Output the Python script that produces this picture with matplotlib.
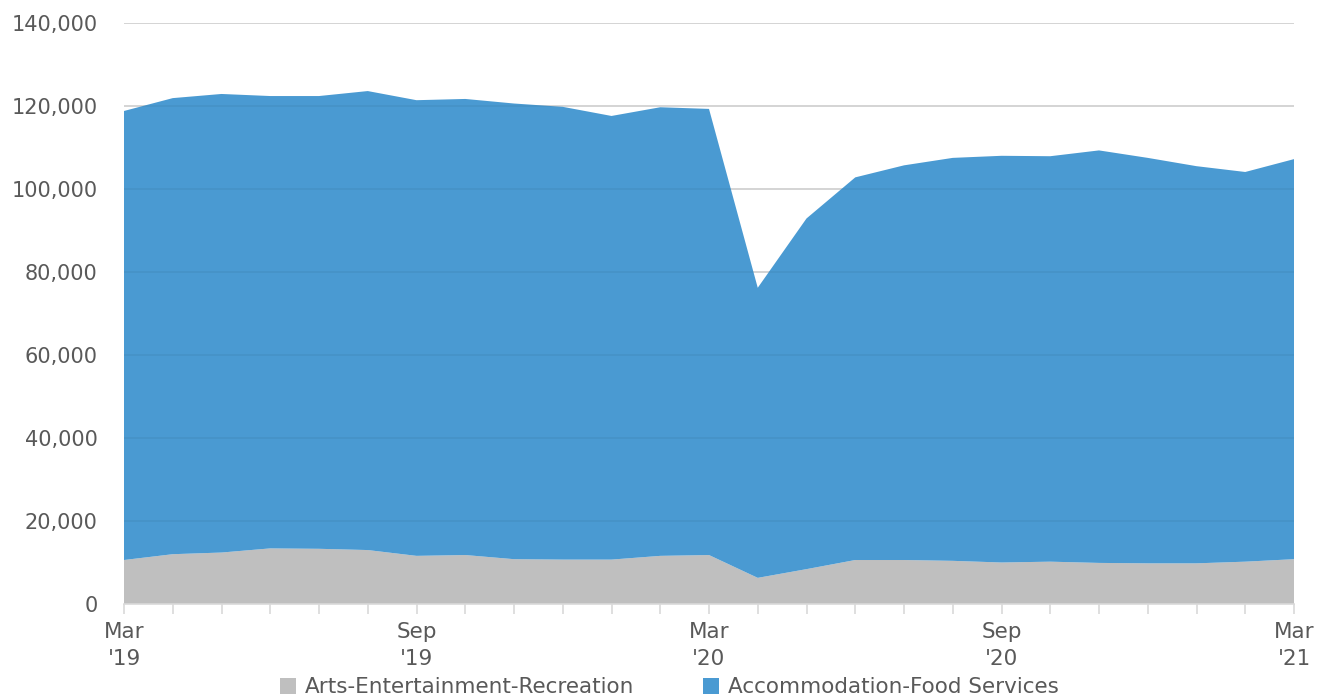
import numpy as np
import matplotlib
matplotlib.use("Agg")
import matplotlib.pyplot as plt
from matplotlib.patches import Patch

# monthly values, Mar 2019 .. Mar 2021
months = ["Mar '19", "Apr '19", "May '19", "Jun '19", "Jul '19", "Aug '19",
          "Sep '19", "Oct '19", "Nov '19", "Dec '19", "Jan '20", "Feb '20",
          "Mar '20", "Apr '20", "May '20", "Jun '20", "Jul '20", "Aug '20",
          "Sep '20", "Oct '20", "Nov '20", "Dec '20", "Jan '21", "Feb '21",
          "Mar '21"]
arts = [10600, 12000, 12400, 13400, 13300, 13000, 11600, 11800, 10800, 10700,
        10700, 11600, 11800, 6300, 8400, 10600, 10600, 10400, 10000, 10200,
        9900, 9800, 9800, 10200, 10800]
total = [118800, 121900, 122900, 122400, 122400, 123600, 121400, 121700, 120600,
         119800, 117600, 119700, 119300, 76200, 92900, 102800, 105700, 107500,
         108000, 107900, 109300, 107500, 105500, 104100, 107200]
accom = [t - a for t, a in zip(total, arts)]

tick_pos = [0, 6, 12, 18, 24]
tick_labels = ["Mar\n'19", "Sep\n'19", "Mar\n'20", "Sep\n'20", "Mar\n'21"]
legend_names = ["Arts-Entertainment-Recreation", "Accommodation-Food Services"]

gray = "#BFBFBF"
blue = "#4A9AD2"
txt = "#595959"

plt.rcParams["font.family"] = "DejaVu Sans"

fig = plt.figure(figsize=(13.25, 7), dpi=100)
ax = fig.add_axes([124 / 1325, 96 / 700, 1170 / 1325, 581 / 700])

x = np.arange(len(months))
ax.stackplot(x, arts, accom, colors=[gray, blue], linewidth=0, zorder=2)

ax.set_xlim(0, 24)
ax.set_ylim(0, 140000)
ax.set_yticks(range(0, 140001, 20000))
ax.set_yticklabels([f"{v:,}" for v in range(0, 140001, 20000)])
for v in range(20000, 140001, 20000):
    ax.axhline(v, color="#D9D9D9", lw=1.2, zorder=1)
    ax.axhline(v, color="black", alpha=0.05, lw=1.2, zorder=3)

ax.set_xticks(tick_pos)
ax.set_xticklabels(tick_labels, linespacing=1.45)
ax.set_xticks(x, minor=True)

for s in ["top", "right", "left"]:
    ax.spines[s].set_visible(False)
ax.spines["bottom"].set_color("#D9D9D9")
ax.spines["bottom"].set_linewidth(1.2)
ax.spines["bottom"].set_zorder(6)

ax.tick_params(axis="y", length=0, pad=19, labelsize=15, labelcolor=txt)
ax.tick_params(axis="x", which="both", length=7, width=1.2, color="#D9D9D9",
               labelsize=15.5, labelcolor=txt, pad=6)

handles = [Patch(facecolor=gray), Patch(facecolor=blue)]
fig.legend(handles, legend_names, loc="center", bbox_to_anchor=(0.505, 0.018),
           ncol=2, frameon=False, fontsize=15.5, labelcolor=txt,
           handlelength=0.75, handleheight=0.75, handletextpad=0.4,
           columnspacing=3.2, borderpad=0.1)

fig.savefig("out.png", dpi=100)
